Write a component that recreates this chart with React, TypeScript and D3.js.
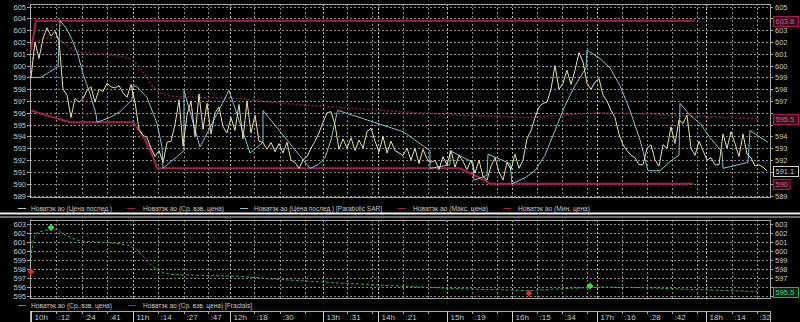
import React from "react";
import * as d3 from "d3";

// ---- data (x = sample index, 0..185) ----
const priceLast: number[] = [
  599.0, 602.0, 600.6, 602.3, 603.2, 602.5, 602.9, 602.1, 598.0, 597.5,
  595.6, 597.2, 596.9, 597.2, 597.9, 598.2, 596.9, 598.0, 597.8, 598.5,
  598.2, 598.1, 598.3, 597.7, 597.3, 598.4, 596.9, 594.6, 594.1, 593.9,
  593.0, 592.3, 592.8, 591.8, 593.5, 593.6, 595.0, 597.1, 593.2, 595.8,
  597.0, 594.0, 597.6, 594.6, 596.8, 594.2, 596.0, 596.5, 594.8, 594.3,
  595.6, 594.5, 596.7, 593.8, 597.0, 594.3, 595.8, 593.6, 593.5, 592.9,
  593.5, 592.7, 593.4, 592.6, 593.5, 592.0, 591.8, 591.3, 592.0, 592.3,
  593.0, 593.6, 594.3, 595.2, 596.0, 596.1, 595.0, 592.9, 593.8, 593.0,
  593.9, 592.8, 593.7, 593.0, 594.4, 594.7, 593.6, 592.7, 594.0, 592.6,
  593.6, 592.8, 592.6, 592.4, 593.0, 592.0, 593.0, 591.7, 592.9, 592.1,
  591.8, 592.0, 591.2, 592.3, 591.6, 592.8, 591.4, 592.4, 591.9, 591.2,
  592.0, 590.9, 592.0, 590.6, 590.3, 591.5, 592.2, 591.0, 590.3, 591.8,
  591.2, 592.5, 591.3, 592.0, 593.8, 594.5, 595.6, 596.5, 596.8, 596.9,
  598.0, 600.0, 598.0, 598.5, 599.6, 598.4, 599.6, 601.1, 600.3, 598.5,
  598.0, 598.6, 598.9, 597.5, 597.0, 596.2, 595.6, 594.2, 593.3, 592.8,
  592.4, 592.2, 591.6, 591.6, 593.0, 593.3, 592.0, 591.5, 593.3, 593.0,
  594.8, 593.4, 595.4, 595.1, 595.8, 593.0, 592.4, 593.6, 592.8, 592.0,
  592.2, 591.6, 591.6, 594.2, 593.0, 594.4, 593.4, 592.3, 594.2, 592.5,
  592.2, 591.5, 591.6, 591.4, 591.1,
];

const parabolicSar: [number, number][] = [
  [0, 599.0], [2.5, 599.0], [6.75, 599.9], [7.25, 603.8], [8.75, 603.2], [10.25, 602.2],
  [11.75, 600.9], [13, 599.3], [14.75, 597.6], [16.25, 595.9], [16.5, 595.2], [19.75, 595.6],
  [22.25, 596.1], [25.25, 597.1], [25.5, 598.3], [26.5, 598.2], [29, 597.3], [31.5, 595.1],
  [32.75, 593.1], [33, 591.3], [38.25, 592.8], [38.25, 597.9], [42.25, 593.1], [49.5, 597.9],
  [54.75, 592.6], [58, 593.5], [58, 596.2], [69.75, 591.3], [71.75, 591.6], [73.5, 592.2],
  [75, 593.7], [76.5, 596.0], [76.75, 596.2], [93, 594.4], [99.75, 592.8], [99.75, 591.3],
  [104.75, 591.6], [104.75, 592.8], [110.5, 591.8], [110.75, 590.3], [114, 590.7],
  [114.25, 592.5], [119.75, 591.7], [120.25, 590.0], [123.5, 590.5], [126, 591.1],
  [128.5, 592.4], [131, 594.5], [133.5, 596.6], [136, 598.3], [138.75, 599.8], [139, 601.3],
  [142.25, 600.6], [144.75, 599.8], [147.25, 598.3], [149.75, 596.2], [152.25, 593.7],
  [154.25, 591.1], [157.25, 591.1], [160.25, 592.0], [162, 592.4], [162.25, 596.8],
  [164.75, 595.8], [167.25, 595.1], [169.75, 593.9], [172.75, 592.7], [173, 591.3],
  [179.25, 591.8], [179.75, 594.5], [184.25, 593.5],
];

const avgPrice: [number, number][] = [
  [0, 599.2], [0.5, 601.0], [1.25, 602.0], [3.5, 602.3], [6.5, 602.4], [7.75, 602.0],
  [9.75, 601.5], [12.25, 601.1], [17.25, 601.0], [22.25, 600.8], [24.75, 600.6],
  [26.25, 600.2], [28.5, 599.2], [30.25, 598.3], [32.25, 597.7], [34.75, 597.4],
  [42.25, 597.3], [52.25, 597.2], [59.75, 596.9], [74.75, 596.5], [92.25, 596.1],
  [107.25, 595.8], [124.75, 595.6], [132.25, 595.8], [142.25, 596.0], [154.75, 595.9],
  [167.25, 595.7], [181.5, 595.5],
];

const maxPrice: [number, number][] = [[0, 601.3], [1.25, 603.8], [166, 603.8]];

const minPrice: [number, number][] = [
  [0, 596.2], [4.75, 595.7], [9.75, 595.2], [25.5, 595.2], [27.25, 594.4], [29, 593.4],
  [30.5, 592.3], [31.5, 591.3], [107.25, 591.3], [109.75, 590.9], [112.25, 590.5],
  [114.75, 590.0], [165.5, 590.0],
];

const fractalsUp: [number, number][] = [[5, 602.6], [139.75, 596.1]];
const fractalsDown: [number, number][] = [[0, 597.7], [124.5, 595.3]];

const timeTicks: { label: string; pos: number; hour: boolean }[] = [
  { label: "10h", pos: 0, hour: true }, { label: ":12", pos: 6.25, hour: false },
  { label: ":24", pos: 12.75, hour: false }, { label: ":41", pos: 19, hour: false },
  { label: "11h", pos: 25.5, hour: true }, { label: ":14", pos: 31.75, hour: false },
  { label: ":27", pos: 38.25, hour: false }, { label: ":47", pos: 44.25, hour: false },
  { label: "12h", pos: 49.75, hour: true }, { label: ":18", pos: 55.75, hour: false },
  { label: ":30", pos: 62.25, hour: false }, { label: "", pos: 68.5, hour: false },
  { label: "13h", pos: 73, hour: true }, { label: ":31", pos: 79, hour: false },
  { label: "", pos: 85.25, hour: false }, { label: "14h", pos: 86.75, hour: true },
  { label: ":21", pos: 93, hour: false }, { label: "", pos: 99.25, hour: false },
  { label: "15h", pos: 104, hour: true }, { label: ":19", pos: 110.25, hour: false },
  { label: "", pos: 116.5, hour: false }, { label: "16h", pos: 120.25, hour: true },
  { label: ":15", pos: 126.5, hour: false }, { label: ":34", pos: 132.75, hour: false },
  { label: "", pos: 139, hour: false }, { label: "17h", pos: 141.5, hour: true },
  { label: ":16", pos: 147.75, hour: false }, { label: ":28", pos: 154, hour: false },
  { label: ":42", pos: 160.25, hour: false }, { label: "", pos: 166.5, hour: false },
  { label: "18h", pos: 168.75, hour: true }, { label: ":14", pos: 175.25, hour: false },
  { label: ":32", pos: 181.5, hour: false },
];

const topYTicks = d3.range(589, 606);
const lowYTicks = d3.range(595, 604);

const topLegendLabels = [
  "Новатэк ао (Цена послед.)",
  "Новатэк ао (Ср. взв. цена)",
  "Новатэк ао (Цена послед.) [Parabolic SAR]",
  "Новатэк ао (Макс. цена)",
  "Новатэк ао (Мин. цена)",
];
const lowLegendLabels = [
  "Новатэк ао (Ср. взв. цена)",
  "Новатэк ао (Ср. взв. цена) [Fractals]",
];

// ---- colours ----
const C_PRICE = "#e6e3a6";
const C_SAR = "#86c4cc";
const C_MAXMIN = "#a3204f";
const C_AVG = "#8c1c4a";
const C_GREEN = "#3aa850";
const C_GRID = "#8a8a8a";
const C_FRAME = "#a8a8a8";
const C_TEXT = "#c8c8c8";
const FONT = "'Liberation Sans', Arial, sans-serif";

const fmt = (v: number) => String(Number(v.toFixed(1)));

export default function App() {
  const W = 800, H = 322;
  const L = 30, R = 770;
  const top = { t: 4, b: 197 };
  const low = { t: 220, b: 298 };

  const x = d3.scaleLinear().domain([0, 185]).range([31, 771]);
  const yT = d3.scaleLinear().domain([589, 605]).range([195.5, 6.5]);
  const yL = d3.scaleLinear().domain([595, 603]).range([296, 224]);

  const lineT = d3.line<[number, number]>().x(d => x(d[0])).y(d => yT(d[1]));
  const lineL = d3.line<[number, number]>().x(d => x(d[0])).y(d => yL(d[1]));
  const pricePts: [number, number][] = priceLast.map((v, i) => [i, v]);

  const lastOf = (a: [number, number][]) => a[a.length - 1][1];
  const topBoxes = [
    { v: lastOf(maxPrice), stroke: C_MAXMIN, fill: "#3a0818", color: "#d06088" },
    { v: lastOf(avgPrice), stroke: C_MAXMIN, fill: "#3a0818", color: "#d06088" },
    { v: priceLast[priceLast.length - 1], stroke: "#d0d0d0", fill: "#000", color: C_TEXT },
    { v: lastOf(minPrice), stroke: C_MAXMIN, fill: "#3a0818", color: "#d06088" },
  ];
  const lowBoxes = [
    { v: lastOf(avgPrice), stroke: C_GREEN, fill: "#0c2a12", color: "#60c070" },
  ];

  const vGrid = (t: number, b: number) =>
    timeTicks.slice(1).map((tk, i) => (
      <line key={i} x1={Math.round(x(tk.pos)) + 0.5} x2={Math.round(x(tk.pos)) + 0.5} y1={t} y2={b}
        stroke={tk.hour ? "#b4b4b4" : C_GRID} strokeDasharray="2,2" strokeWidth={1} />
    ));

  const hGrid = (ticks: number[], y: d3.ScaleLinear<number, number>, boxes: { v: number }[]) =>
    ticks.map(v => {
      const yy = Math.round(y(v)) + 0.5;
      const hidden = boxes.some(b => Math.abs(y(b.v) - y(v)) < 8.5);
      return (
        <g key={v}>
          <line x1={L} x2={R} y1={yy} y2={yy} stroke={C_GRID} strokeDasharray="2,2" />
          <line x1={L - 3} x2={L} y1={yy} y2={yy} stroke={C_FRAME} />
          <line x1={R} x2={R + 3} y1={yy} y2={yy} stroke={C_FRAME} />
          <text x={L - 4} y={yy + 2.6} textAnchor="end" fontSize={7.5} fill={C_TEXT}>{v}</text>
          {!hidden && <text x={R + 5} y={yy + 2.6} fontSize={7.5} fill={C_TEXT}>{v}</text>}
        </g>
      );
    });

  const valueBox = (v: number, yy: number, stroke: string, fill: string, color: string, key: string) => {
    const label = fmt(v);
    const w = label.length * 4.2 + 4;
    return (
      <g key={key}>
        <rect x={773.5} y={Math.round(yy) - 4.5} width={w} height={10} fill={fill} stroke={stroke} />
        <text x={775.5} y={Math.round(yy) + 3} fontSize={7.5} fill={color}>{label}</text>
      </g>
    );
  };

  const diamond = (cx: number, cy: number, color: string, key: string) => (
    <path key={key} d={`M${cx},${cy - 3.5}L${cx + 3.5},${cy}L${cx},${cy + 3.5}L${cx - 3.5},${cy}Z`} fill={color} />
  );

  const topLegendPos = [
    { lx: 18, tx: 31, w: 81, c: "#c8c8b0" },
    { lx: 127, tx: 143, w: 81, c: C_MAXMIN },
    { lx: 240, tx: 254, w: 128, c: C_SAR },
    { lx: 398, tx: 413, w: 75, c: C_MAXMIN },
    { lx: 503, tx: 518, w: 72, c: C_MAXMIN },
  ];
  const lowLegendPos = [
    { lx: 18, tx: 31, w: 81, c: C_GREEN },
    { lx: 128, tx: 143, w: 109, c: "#d02020" },
  ];

  return (
    <svg width={W} height={H} style={{ position: "fixed", left: 0, top: 0, background: "#000" }}
      fontFamily={FONT}>
      <rect x={0} y={0} width={W} height={H} fill="#000" />
      <defs>
        <clipPath id="clipTop"><rect x={L} y={top.t} width={R - L} height={top.b - top.t} /></clipPath>
        <clipPath id="clipLow"><rect x={L} y={low.t} width={R - L} height={low.b - low.t} /></clipPath>
      </defs>

      {/* ---- top panel ---- */}
      {vGrid(top.t, top.b)}
      {hGrid(topYTicks, yT, topBoxes)}
      <rect x={L + 0.5} y={top.t + 0.5} width={R - L} height={top.b - top.t} fill="none" stroke={C_FRAME} />
      <g clipPath="url(#clipTop)" fill="none">
        <path d={lineT(avgPrice) || ""} stroke={C_AVG} strokeWidth={1.5} strokeDasharray="2,2" />
        <path d={lineT(maxPrice) || ""} stroke={C_MAXMIN} strokeWidth={2} />
        <path d={lineT(minPrice) || ""} stroke={C_MAXMIN} strokeWidth={2} />
        <path d={lineT(parabolicSar) || ""} stroke={C_SAR} strokeWidth={1} />
        <path d={lineT(pricePts) || ""} stroke={C_PRICE} strokeWidth={1} />
      </g>
      {topBoxes.map((b, i) => valueBox(b.v, yT(b.v), b.stroke, b.fill, b.color, "tb" + i))}

      {/* top legend */}
      {topLegendLabels.map((lab, i) => {
        const p = topLegendPos[i];
        return (
          <g key={lab}>
            <line x1={p.lx} x2={p.lx + 8} y1={208.5} y2={208.5} stroke={p.c} />
            <text x={p.tx} y={211} fontSize={8} fill={C_TEXT} textLength={p.w} lengthAdjust="spacingAndGlyphs">{lab}</text>
          </g>
        );
      })}

      {/* separator */}
      <rect x={0} y={212.5} width={W} height={2} fill="#f0f0f0" />
      <rect x={0} y={216.5} width={W} height={1} fill="#d8d8d8" />

      {/* ---- lower panel ---- */}
      {vGrid(low.t, low.b)}
      {hGrid(lowYTicks, yL, lowBoxes)}
      <rect x={L + 0.5} y={low.t + 0.5} width={R - L} height={low.b - low.t} fill="none" stroke={C_FRAME} />
      <g clipPath="url(#clipLow)">
        <path d={lineL(avgPrice) || ""} fill="none" stroke={C_GREEN} strokeWidth={1} strokeDasharray="3,2" />
      </g>
      {fractalsUp.map((d, i) => diamond(x(d[0]), yL(d[1]), "#30e040", "fu" + i))}
      {fractalsDown.map((d, i) => diamond(x(d[0]), yL(d[1]), "#e02828", "fd" + i))}
      {lowBoxes.map((b, i) => valueBox(b.v, yL(b.v), b.stroke, b.fill, b.color, "lb" + i))}

      {/* lower legend */}
      {lowLegendLabels.map((lab, i) => {
        const p = lowLegendPos[i];
        return (
          <g key={lab}>
            <line x1={p.lx} x2={p.lx + 8} y1={305.5} y2={305.5} stroke={p.c} />
            <text x={p.tx} y={308} fontSize={8} fill={C_TEXT} textLength={p.w} lengthAdjust="spacingAndGlyphs">{lab}</text>
          </g>
        );
      })}

      {/* time axis */}
      <rect x={L + 0.5} y={311.5} width={R - L} height={11} fill="none" stroke={C_FRAME} />
      {timeTicks.map((tk, i) => {
        const xx = Math.round(x(tk.pos)) + 0.5;
        return (
          <g key={i}>
            <line x1={xx} x2={xx} y1={311} y2={tk.hour ? 322 : 314} stroke={tk.hour ? "#d0d0d0" : C_FRAME} />
            {tk.label && (
              <text x={xx + (tk.hour ? 3 : 2)} y={320} fontSize={8} fill={C_TEXT}>{tk.label}</text>
            )}
          </g>
        );
      })}
    </svg>
  );
}
